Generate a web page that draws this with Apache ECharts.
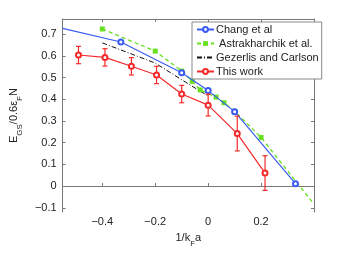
<!DOCTYPE html>
<html><head><meta charset="utf-8">
<script src="https://cdn.jsdelivr.net/npm/echarts@6/dist/echarts.min.js"></script>
<style>html,body{margin:0;padding:0;background:#fff}#c{width:347px;height:253px}</style>
</head><body><div id="c"></div>
<script>
const xTicks = [-0.4, -0.2, 0, 0.2];
const yTicks = [-0.1, 0, 0.1, 0.2, 0.3, 0.4, 0.5, 0.6, 0.7];

const changX = [-0.55, -0.33, -0.1, 0, 0.1, 0.33];
const changY = [0.727, 0.664, 0.522, 0.44, 0.343, 0.011];

const astroX = [-0.4, -0.2, -0.1, -0.06, -0.03, 0.03, 0.06, 0.1, 0.2, 0.4];
const astroY = [0.724, 0.622, 0.53, 0.483, 0.443, 0.41, 0.384, 0.345, 0.224, -0.083];

const gezX = [-0.4, -0.2, -0.1, 0];
const gezY = [0.66, 0.567, 0.49, 0.415];

const redX = [-0.49, -0.39, -0.29, -0.195, -0.1, 0, 0.11, 0.215];
const redY = [0.604, 0.593, 0.552, 0.512, 0.424, 0.373, 0.242, 0.06];
const redErr = [0.04, 0.04, 0.04, 0.04, 0.04, 0.05, 0.08, 0.08];

const fmt = v => v < 0 ? '\u2212' + String(Math.abs(v)) : String(v);
const pairs = (xs, ys) => xs.map((x, i) => [x, ys[i]]);

const font = 'Liberation Sans, Arial, sans-serif';
const axisColor = '#777';
const textColor = '#222';
const richSub = {
  m: {fontSize: 11, lineHeight: 16, verticalAlign: 'top', color: textColor, fontFamily: font},
  s: {fontSize: 8, verticalAlign: 'bottom', color: textColor, fontFamily: font}
};

const chart = echarts.init(document.getElementById('c'), null, {renderer: 'canvas'});
chart.setOption({
  animation: false,
  textStyle: {fontFamily: font},
  grid: {left: 45, right: 33, top: 19, bottom: 34},
  legend: {
    orient: 'vertical', left: 192, top: 22,
    backgroundColor: '#fff', borderColor: '#888', borderWidth: 1,
    padding: [2, 3, 2, 4], itemGap: 3, itemWidth: 17, itemHeight: 6,
    textStyle: {fontSize: 11, color: textColor, fontFamily: font, padding: [0, 0, 0, -3]},
    data: ['Chang et al', ' Astrakharchik et al.',
      {name: 'Gezerlis and Carlson', itemStyle: {opacity: 0}}, 'This work']
  },
  xAxis: [{
    type: 'value', min: -0.55, max: 0.4,
    name: '{m|1/k}{s|F}{m|a}', nameLocation: 'middle', nameGap: 14,
    nameTextStyle: {rich: richSub},
    axisLine: {lineStyle: {color: axisColor}},
    axisTick: {inside: true, length: 3, lineStyle: {color: axisColor}, customValues: xTicks},
    axisLabel: {customValues: xTicks, formatter: fmt, fontSize: 11, color: textColor, margin: 4},
    splitLine: {show: false}
  }, {
    type: 'value', min: -0.55, max: 0.4, position: 'top',
    axisLine: {onZero: false, lineStyle: {color: axisColor}},
    axisTick: {inside: true, length: 3, lineStyle: {color: axisColor}, customValues: xTicks},
    axisLabel: {show: false}, splitLine: {show: false}
  }],
  yAxis: [{
    type: 'value', min: -0.12, max: 0.77,
    name: '{m|E}{s|GS}{m|/0.6\u03b5}{s|F}{m|N}', nameLocation: 'middle', nameGap: 29, nameRotate: 90,
    nameTextStyle: {rich: richSub},
    axisLine: {onZero: false, lineStyle: {color: axisColor}},
    axisTick: {inside: true, length: 3, lineStyle: {color: axisColor}, customValues: yTicks},
    axisLabel: {customValues: yTicks, formatter: fmt, fontSize: 11, color: textColor, margin: 6},
    splitLine: {show: false}
  }, {
    type: 'value', min: -0.12, max: 0.77, position: 'right',
    axisLine: {show: true, onZero: false, lineStyle: {color: axisColor}},
    axisTick: {show: true, inside: true, length: 3, lineStyle: {color: axisColor}, customValues: yTicks},
    axisLabel: {show: false}, splitLine: {show: false}
  }],
  series: [{
    name: 'Chang et al', type: 'line',
    data: pairs(changX, changY).map((p, i) => i === 0 ? {value: p, symbol: 'none'} : p),
    symbol: 'emptyCircle', symbolSize: 5,
    lineStyle: {color: '#3a5cf5', width: 1.2},
    itemStyle: {color: '#3a5cf5', borderWidth: 1}, z: 3
  }, {
    name: ' Astrakharchik et al.', type: 'line',
    data: pairs(astroX, astroY).map((p, i) => i === astroX.length - 1 ? {value: p, symbol: 'none'} : p),
    symbol: 'rect', symbolSize: 5,
    lineStyle: {color: '#66e020', width: 1.3, type: [4, 3]},
    itemStyle: {color: '#66e020'}, z: 2
  }, {
    name: 'Gezerlis and Carlson', type: 'line',
    data: pairs(gezX, gezY), symbol: 'none',
    lineStyle: {color: '#111', width: 1, type: [5, 2, 1, 2]},
    itemStyle: {color: '#111'}, z: 2
  }, {
    name: 'This work', type: 'line',
    data: pairs(redX, redY),
    symbol: 'emptyCircle', symbolSize: 5,
    lineStyle: {color: '#f52a2a', width: 1.2},
    itemStyle: {color: '#f52a2a', borderWidth: 1}, z: 4
  }, {
    name: 'This work err', type: 'custom',
    data: redX.map((x, i) => [x, redY[i] - redErr[i], redY[i] + redErr[i]]),
    renderItem: (params, api) => {
      const lo = api.coord([api.value(0), api.value(1)]);
      const hi = api.coord([api.value(0), api.value(2)]);
      const c = 2.5;
      const st = {stroke: '#f52a2a', lineWidth: 1.2};
      return {type: 'group', children: [
        {type: 'line', shape: {x1: lo[0], y1: lo[1], x2: hi[0], y2: hi[1]}, style: st},
        {type: 'line', shape: {x1: lo[0] - c, y1: lo[1], x2: lo[0] + c, y2: lo[1]}, style: st},
        {type: 'line', shape: {x1: hi[0] - c, y1: hi[1], x2: hi[0] + c, y2: hi[1]}, style: st}
      ]};
    },
    z: 4
  }]
});
</script></body></html>
